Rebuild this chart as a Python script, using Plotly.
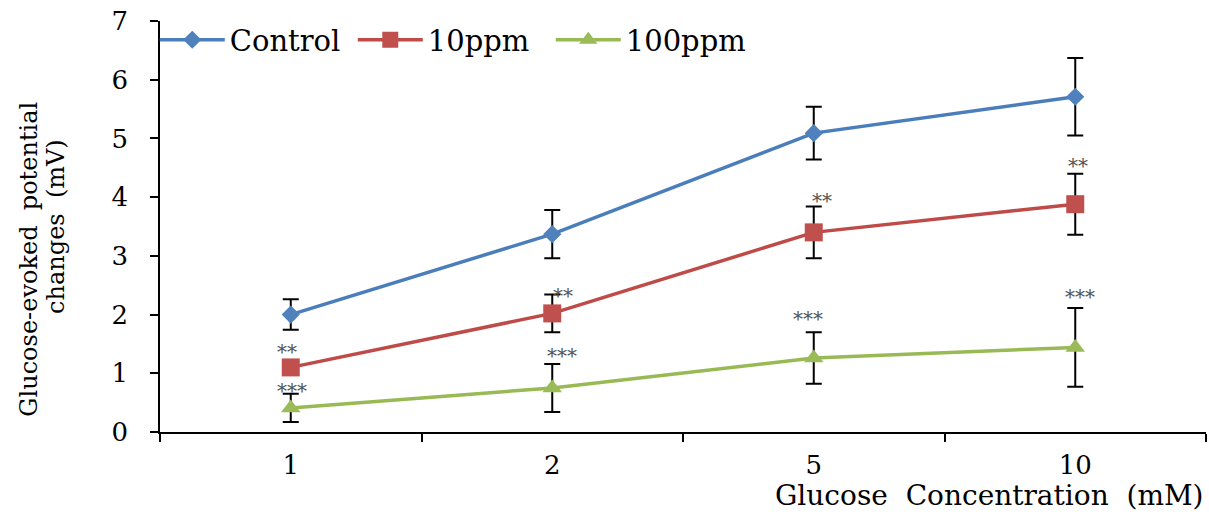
import plotly.graph_objects as go

categories = ["1", "2", "5", "10"]
series_names = ["Control", "10ppm", "100ppm"]
control = [2.00, 3.37, 5.09, 5.71]
control_err = [0.26, 0.41, 0.45, 0.66]
ppm10 = [1.10, 2.02, 3.40, 3.88]
ppm10_err = [0.10, 0.32, 0.44, 0.52]
ppm100 = [0.41, 0.75, 1.26, 1.44]
ppm100_err = [0.24, 0.41, 0.44, 0.67]

ppm10_stars = ["**", "**", "**", "**"]
ppm10_star_y = [1.43, 2.39, 4.00, 4.60]
ppm10_star_dx = [-4, 11, 8, 3]
ppm100_stars = ["***", "***", "***", "***"]
ppm100_star_y = [0.77, 1.36, 1.99, 2.37]
ppm100_star_dx = [1, 10, -6, 5]

FONT = "DejaVu Serif"
line_colors = ["#4A7EBB", "#BE4B48", "#98B954"]
marker_colors = ["#4F81BD", "#C0504D", "#9BBB59"]
symbols = ["diamond", "square", "triangle-up"]
sizes = [14, 18, 17]

fig = go.Figure()
for name, vals, errs, lc, mc, sym, sz in zip(series_names, [control, ppm10, ppm100],
                                             [control_err, ppm10_err, ppm100_err],
                                             line_colors, marker_colors, symbols, sizes):
    fig.add_trace(go.Scatter(
        x=categories, y=vals, name=name, mode="lines+markers",
        line=dict(color=lc, width=3.5),
        marker=dict(symbol=sym, size=sz, color=mc, line=dict(width=0)),
        error_y=dict(type="data", array=errs, visible=True, color="black",
                     thickness=2, width=8),
    ))

for labels, ys, dxs in [(ppm10_stars, ppm10_star_y, ppm10_star_dx),
                        (ppm100_stars, ppm100_star_y, ppm100_star_dx)]:
    for i, (t, yv, dx) in enumerate(zip(labels, ys, dxs)):
        fig.add_annotation(x=i, y=yv, text=t, showarrow=False, xshift=dx, yshift=-4,
                           font=dict(family=FONT, size=20, color="#555555"),
                           xanchor="center", yanchor="middle")

fig.add_annotation(xref="paper", yref="paper", x=1.0, y=-0.155, xanchor="right",
                   yanchor="middle", showarrow=False,
                   text="Glucose&#160; Concentration&#160; (mM)",
                   font=dict(family=FONT, size=28, color="black"))
fig.add_annotation(xref="paper", yref="paper", x=-0.125, y=0.42, xanchor="center",
                   yanchor="middle", showarrow=False, textangle=-90,
                   text="Glucose-evoked&#160; potential",
                   font=dict(family=FONT, size=24, color="black"))
fig.add_annotation(xref="paper", yref="paper", x=-0.100, y=0.50, xanchor="center",
                   yanchor="middle", showarrow=False, textangle=-90,
                   text="changes&#160; (mV)",
                   font=dict(family=FONT, size=24, color="black"))

fig.update_layout(
    width=1209, height=519,
    margin=dict(l=160, r=3, t=21, b=87),
    paper_bgcolor="white", plot_bgcolor="white",
    font=dict(family=FONT, color="black"),
    showlegend=True,
    legend=dict(orientation="h", x=-0.005, xanchor="left", y=0.954, yanchor="middle",
                font=dict(family=FONT, size=29, color="black"),
                bgcolor="rgba(0,0,0,0)", entrywidth=118, entrywidthmode="pixels",
                itemwidth=65, tracegroupgap=0),
    xaxis=dict(type="category", categoryorder="array", categoryarray=categories,
               range=[-0.5, 3.5], showline=True, linecolor="black", linewidth=1.5,
               ticks="outside", tickson="boundaries", ticklen=8, tickcolor="black",
               tickwidth=1.5, showgrid=False, zeroline=False,
               tickfont=dict(family=FONT, size=26, color="black"),
               ticklabelstandoff=9),
    yaxis=dict(range=[0, 7], dtick=1, showline=True, linecolor="black", linewidth=1.5,
               ticks="outside", ticklen=8, tickcolor="black", tickwidth=1.5,
               showgrid=False, zeroline=False,
               tickfont=dict(family=FONT, size=26, color="black"),
               ticklabelstandoff=17),
)

fig.write_html("out.html")
